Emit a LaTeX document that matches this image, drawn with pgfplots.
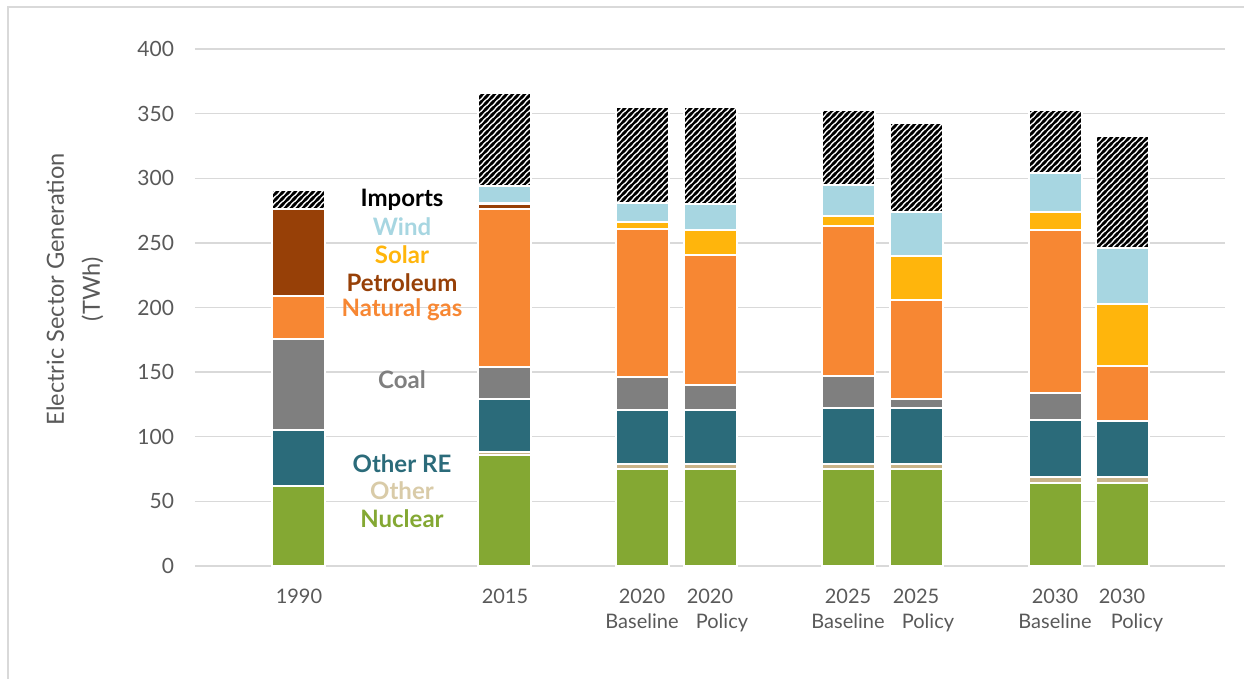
\documentclass[border=0pt]{standalone}
\usepackage{fontspec}
\setmainfont{Lato}
\usepackage{pgfplots}
\pgfplotsset{compat=1.18}
\usepackage{pgfplotstable}
\usetikzlibrary{patterns}
\definecolor{cnuc}{HTML}{84A833}
\definecolor{coth}{HTML}{C9B48A}
\definecolor{cothtxt}{HTML}{D9CBA8}
\definecolor{core}{HTML}{2B6B7A}
\definecolor{ccoal}{HTML}{7F7F7F}
\definecolor{cng}{HTML}{F78733}
\definecolor{cpet}{HTML}{974007}
\definecolor{csol}{HTML}{FFB50C}
\definecolor{cwind}{HTML}{A7D6E1}
\definecolor{gridgray}{HTML}{D9D9D9}
\definecolor{tickgray}{HTML}{595959}

\pgfdeclarepatternformonly{thickstripes}{\pgfqpoint{-1pt}{-1pt}}{\pgfqpoint{4pt}{4pt}}{\pgfqpoint{3pt}{3pt}}{%
  \pgfsetlinewidth{1.1pt}%
  \pgfpathmoveto{\pgfqpoint{-1pt}{-1pt}}\pgfpathlineto{\pgfqpoint{4pt}{4pt}}%
  \pgfpathmoveto{\pgfqpoint{-1pt}{2pt}}\pgfpathlineto{\pgfqpoint{1pt}{4pt}}%
  \pgfpathmoveto{\pgfqpoint{2pt}{-1pt}}\pgfpathlineto{\pgfqpoint{4pt}{1pt}}%
  \pgfusepath{stroke}}

\pgfplotstableread{
x nuc oth ore coal ng pet sol wind imp
299 62 0 43 71 33 67 0 0 15
505 86 2 41 25 122 4 1 13 72
642 75 4 42 25 115 0 5 15 74
710 75 4 42 19 101 0 19 20 75
848 75 4 43 25 116 0 8 24 58
916 75 4 43 7 77 0 34 34 69
1055 64 5 44 21 126 0 14 30 49
1122 64 5 43 0 43 0 48 43 87
}\gendata

\begin{document}
\begin{tikzpicture}
\useasboundingbox (-97.5pt,-56.5pt) rectangle (524.5pt,283pt);
\draw[gridgray, line width=1pt] (-93.5pt,-56.5pt) -- (-93.5pt,279.5pt) -- (524.5pt,279.5pt);
\begin{axis}[
  at={(0pt,0pt)}, anchor=south west,
  scale only axis, width=515pt, height=258.5pt,
  xmin=195, xmax=1225, ymin=0, ymax=400,
  ybar stacked, bar width=53,
  ytick={0,50,...,400},
  ymajorgrids, grid style={draw=gridgray, line width=0.7pt},
  axis line style={draw=none},
  major tick length=0pt,
  xtick={299,505,642,710,848,916,1055,1122},
  xticklabels={1990,2015,{2020\\Baseline},{2020\\\hspace*{12pt}Policy},{2025\\Baseline},{2025\\\hspace*{12pt}Policy},{2030\\Baseline},{2030\\\hspace*{15pt}Policy}},
  xticklabel style={align=center, font=\fontsize{10}{12.5}\selectfont, text=tickgray, yshift=-8pt},
  yticklabel style={font=\fontsize{10.5}{12}\selectfont, text=tickgray, xshift=-7pt},
  /pgf/number format/assume math mode=true,
  clip=false,
  every axis plot/.append style={draw=white, line width=1pt},
]
\addplot[fill=cnuc] table[x=x,y=nuc] {\gendata};
\addplot[fill=coth] table[x=x,y=oth] {\gendata};
\addplot[fill=core] table[x=x,y=ore] {\gendata};
\addplot[fill=ccoal] table[x=x,y=coal] {\gendata};
\addplot[fill=cng] table[x=x,y=ng] {\gendata};
\addplot[fill=cpet] table[x=x,y=pet] {\gendata};
\addplot[fill=csol] table[x=x,y=sol] {\gendata};
\addplot[fill=cwind] table[x=x,y=wind] {\gendata};
\addplot[pattern=thickstripes, pattern color=black] table[x=x,y=imp] {\gendata};

\node[rotate=90, align=center, font=\fontsize{11.8}{18}\selectfont, text=tickgray] at (axis cs:75,214) {Electric Sector Generation\\(TWh)};

\node[font=\fontsize{12}{12}\selectfont\bfseries, text=black] at (axis cs:402,283.4) {Imports};
\node[font=\fontsize{12}{12}\selectfont\bfseries, text=cwind] at (axis cs:402,262.5) {Wind};
\node[font=\fontsize{12}{12}\selectfont\bfseries, text=csol] at (axis cs:402,240.9) {Solar};
\node[font=\fontsize{12}{12}\selectfont\bfseries, text=cpet] at (axis cs:402,219.3) {Petroleum};
\node[font=\fontsize{12}{12}\selectfont\bfseries, text=cng] at (axis cs:402,198.5) {Natural gas};
\node[font=\fontsize{12}{12}\selectfont\bfseries, text=ccoal] at (axis cs:402,143.8) {Coal};
\node[font=\fontsize{12}{12}\selectfont\bfseries, text=core] at (axis cs:402,78.9) {Other RE};
\node[font=\fontsize{12}{12}\selectfont\bfseries, text=cothtxt] at (axis cs:402,58.0) {Other};
\node[font=\fontsize{12}{12}\selectfont\bfseries, text=cnuc] at (axis cs:402,36.3) {Nuclear};
\end{axis}
\end{tikzpicture}
\end{document}
